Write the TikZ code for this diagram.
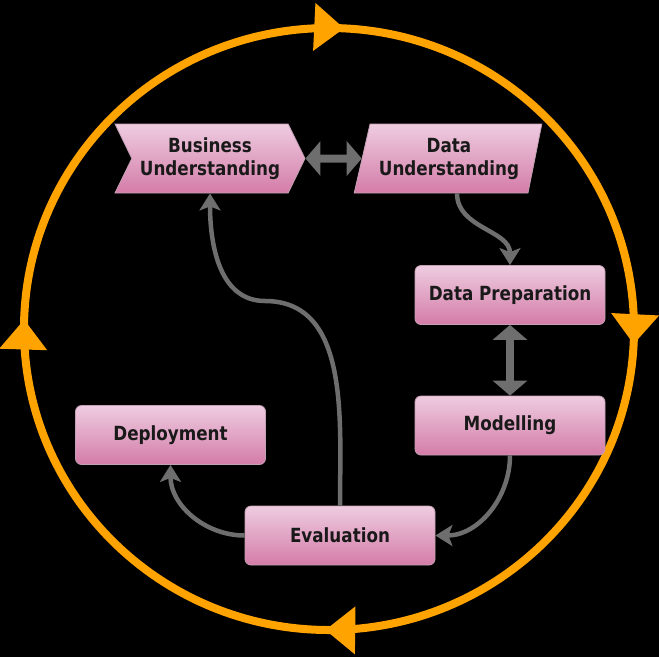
\documentclass[tikz,border=0pt]{standalone}
\usepackage{fontspec}
\newfontfamily\boxfont{DejaVu Sans}[FakeStretch=0.86]
\usetikzlibrary{arrows.meta,calc,shapes.symbols,shapes.geometric,decorations.markings}
\definecolor{cycleorange}{RGB}{255,163,0}
\definecolor{linkgrey}{RGB}{110,110,110}
\definecolor{boxtop}{RGB}{238,204,224}
\definecolor{boxbottom}{RGB}{212,124,168}
\definecolor{boxedge}{RGB}{196,160,180}

\begin{document}
\begin{tikzpicture}[x=1pt,y=-1pt,
  phase/.style={top color=boxtop,bottom color=boxbottom,draw=boxedge,line width=.8pt,
    font=\boxfont\bfseries\fontsize{19.5}{23}\selectfont,text=black!90,align=center},
  stepbox/.style={phase,rounded corners=6pt,minimum width=190pt,minimum height=59pt},
  link/.style={linkgrey,line width=4.5pt,-{Stealth[length=17pt,width=21pt,inset=4pt]}},
  twoway/.style={linkgrey,line width=8pt,{Triangle[length=15pt,width=34pt]}-{Triangle[length=15pt,width=34pt]}}]
  \useasboundingbox (0,0) rectangle (659,657);
  \fill[black] (0,0) rectangle (659,657);
  \draw[cycleorange,line width=8pt,postaction={decorate},decoration={markings,
      mark=at position .008 with {\arrow{Triangle[length=30pt,width=46pt]}},
      mark=at position .258 with {\arrow{Triangle[length=30pt,width=46pt]}},
      mark=at position .502 with {\arrow{Triangle[length=30pt,width=46pt]}},
      mark=at position .755 with {\arrow{Triangle[length=30pt,width=46pt]}}}]
    (329,28) arc[start angle=90,end angle=-270,x radius=305pt,y radius=301pt];

  \node[phase,signal,signal from=west,signal to=east,signal pointer angle=128,
    minimum width=190pt,minimum height=69pt] (bu) at (210,158.5) {Business\\Understanding};
  \node[phase,trapezium,trapezium left angle=73,trapezium right angle=105,
    trapezium stretches=true,minimum width=188pt,minimum height=69pt] (du) at (449,158.5) {Data\\Understanding};
  \node[stepbox] (prep) at (510,295) {Data Preparation};
  \node[stepbox] (model) at (510,425.5) {Modelling};
  \node[stepbox] (deploy) at (170.5,435) {Deployment};
  \node[stepbox] (eval) at (340,535.5) {Evaluation};
  \coordinate (bend) at (265,301);

  \draw[twoway] (bu.east) -- (du.west);
  \draw[twoway] (prep.south) -- (model.north);
  \draw[link] ([xshift=8pt]du.south) to[out=-90,in=90] (prep.north);
  \draw[link] (model.south) to[out=-90,in=0] (eval.east);
  \draw[link] (eval.west) to[out=180,in=-90] (deploy.south);
  \draw[link] (eval.north) to[out=90,in=0] (bend) to[out=180,in=-90] (bu.south);
\end{tikzpicture}
\end{document}
